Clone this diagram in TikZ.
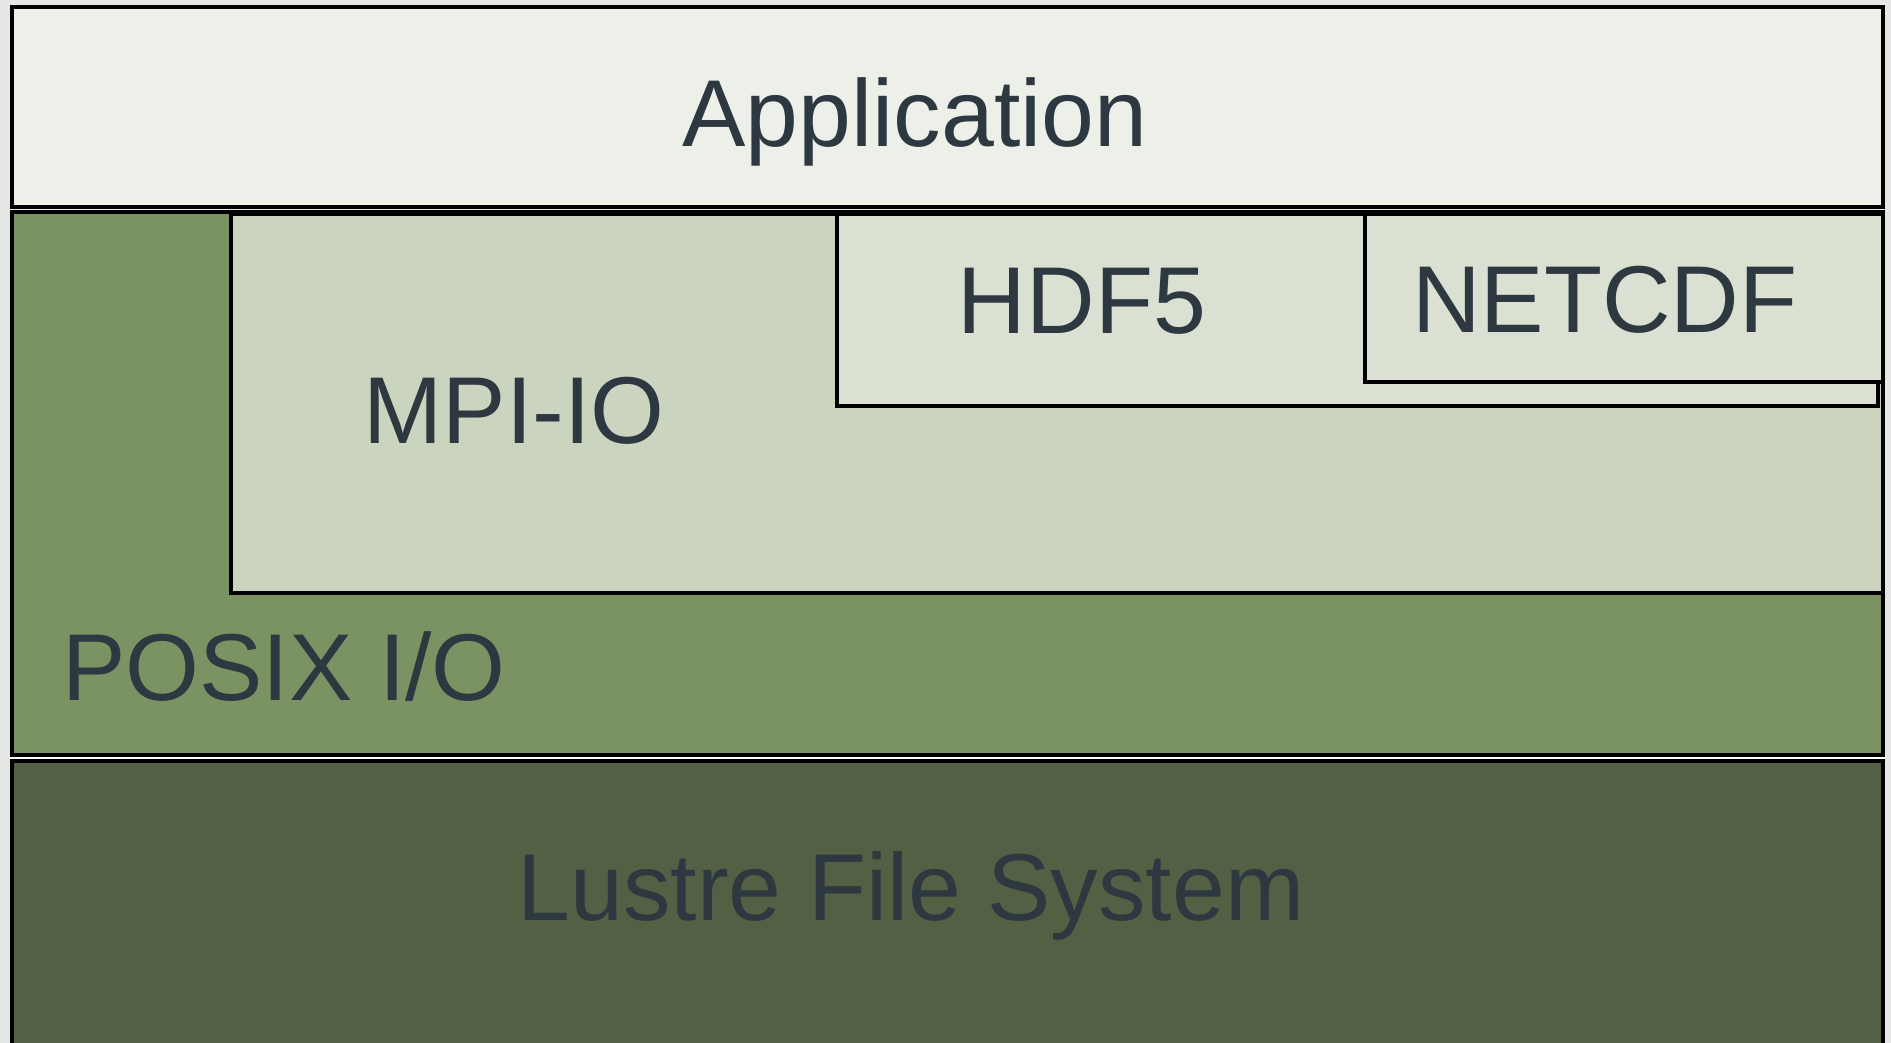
\documentclass[tikz,border=0pt]{standalone}
\usepackage{fontspec}
\setmainfont{Liberation Sans}
\definecolor{pagebg}{HTML}{E4E7E4}
\definecolor{appfill}{HTML}{EDF0E9}
\definecolor{posixfill}{HTML}{7B9263}
\definecolor{mpifill}{HTML}{CBD4BF}
\definecolor{libfill}{HTML}{DAE0D2}
\definecolor{lustrefill}{HTML}{536043}
\definecolor{ink}{HTML}{2D3840}
\tikzset{
  layer/.style={draw=black, line width=3.6pt},
  label/.style={anchor=base, inner sep=0pt, text=ink,
    font=\fontsize{95}{114}\selectfont},
}
\begin{document}
\begin{tikzpicture}[x=1pt, y=-1pt]
  % page area
  \fill[pagebg] (0,0) rectangle (1891,1043);
  \useasboundingbox (0,0) rectangle (1891,1043);
  \clip (0,0) rectangle (1891,1043);
  \fill[white] (10,755) rectangle (1885,761);

  % stacked layers
  \path[layer, fill=appfill]    (12,7)    rectangle (1883,207);
  \path[layer, fill=posixfill]  (12,212)  rectangle (1883,755);
  \path[layer, fill=mpifill]    (231,214) rectangle (1883,593);
  \path[layer, fill=libfill]    (837,214) rectangle (1878,406);
  \path[layer, fill=libfill]    (1365,214) rectangle (1883,382);
  \path[layer, fill=lustrefill] (12,761)  rectangle (1883,1060);

  % layer names
  \node[label] (app)    at (915,147)  {Application};
  \node[label] (mpiio)  at (514,443)  {MPI-IO};
  \node[label] (hdf)    at (1082,333) {HDF5};
  \node[label] (netcdf) at (1605,332) {NETCDF};
  \node[label] (posix)  at (284,700)  {POSIX I/O};
  \node[label] (lustre) at (911,920)  {Lustre File System};
\end{tikzpicture}
\end{document}
